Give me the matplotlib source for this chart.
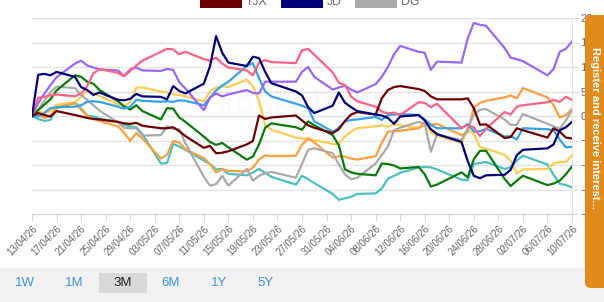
import matplotlib
matplotlib.use("Agg")
import matplotlib.pyplot as plt
from matplotlib.patches import Rectangle, FancyBboxPatch
from matplotlib.transforms import IdentityTransform
import pandas as pd

plt.rcParams['font.family'] = ['Liberation Sans', 'DejaVu Sans']

# trading days shown on the chart
dates = ["2026-04-13", "2026-04-14", "2026-04-15", "2026-04-16", "2026-04-17",
         "2026-04-20", "2026-04-21", "2026-04-22", "2026-04-23", "2026-04-24",
         "2026-04-27", "2026-04-28", "2026-04-29", "2026-04-30", "2026-05-01",
         "2026-05-04", "2026-05-05", "2026-05-06", "2026-05-07", "2026-05-08",
         "2026-05-11", "2026-05-12", "2026-05-13", "2026-05-14", "2026-05-15",
         "2026-05-18", "2026-05-19", "2026-05-20", "2026-05-21", "2026-05-22",
         "2026-05-26", "2026-05-27", "2026-05-28", "2026-05-29",
         "2026-06-01", "2026-06-02", "2026-06-03", "2026-06-04", "2026-06-05",
         "2026-06-08", "2026-06-09", "2026-06-10", "2026-06-11", "2026-06-12",
         "2026-06-15", "2026-06-16", "2026-06-17", "2026-06-18",
         "2026-06-22", "2026-06-23", "2026-06-24", "2026-06-25", "2026-06-26",
         "2026-06-29", "2026-06-30", "2026-07-01", "2026-07-02",
         "2026-07-06", "2026-07-07", "2026-07-08", "2026-07-09", "2026-07-10"]

# % change per series
purple = [0, 2.6, 4.5, 6.3, 7.9, 10.7, 11.3, 10.3, 9.9, 9.5,
          9.3, 8.2, 9.5, 9.9, 9.3, 9.2, 9.6, 9.4, 6.9, 5.6,
          1.2, 3.8, 4.6, 4.0, 4.4, 5.3, 4.7, 4.6, 7.0, 7.0,
          7.0, 9.0, 10.0, 8.0, 5.4, 5.8, 6.2, 5.4, 4.8,
          6.5, 8.0, 10.0, 12.6, 14.3, 13.1, 12.9, 9.4, 11.1,
          10.9, 15.8, 19.0, 18.6, 18.4, 13.9, 11.9, 11.6, 11.2,
          8.3, 9.6, 13.1, 13.7, 15.2]
pink = [0, 3.7, 3.9, 4.2, 4.4, 4.0, 4.6, 6.1, 8.7, 9.6,
        8.8, 8.1, 9.2, 10.3, 11.3, 13.1, 13.7, 13.6, 12.6, 13.1,
        11.6, 11.3, 11.9, 10.7, 9.9, 9.3, 8.3, 10.9, 11.4, 11.0,
        10.8, 13.4, 13.7, 12.5, 8.9, 6.8, 6.3, 4.0, 3.0,
        1.9, 0.9, 0.5, 0.7, 0.2, 2.8, 2.7, 1.8, 2.5,
        -2.5, -1.8, -2.3, -4.1, -2.6, 0.8, 0.3, 1.9, 2.2,
        2.8, 3.3, 2.9, 3.9, 3.3]
jd = [0, 8.4, 8.6, 8.3, 9.0, 8.0, 5.9, 5.3, 4.3, 4.8,
      3.3, 3.2, 3.5, 4.5, 4.0, 3.9, 3.4, 6.1, 5.1, 4.6,
      6.6, 10.1, 16.3, 12.9, 10.9, 10.2, 12.1, 11.8, 9.0, 6.7,
      5.0, 4.2, 1.8, 0.6, 2.1, 4.8, 2.7, 1.8, 1.0,
      0.3, 0.1, -0.4, -1.6, -0.1, 0.2, -0.9, -2.7, -3.7,
      -5.3, -9.2, -12.2, -12.7, -12.1, -12.0, -11.0, -8.0, -6.9,
      -6.6, -5.8, -2.9, -2.3, -1.2]
tjx = [0, 0.6, 0.2, -0.1, 1.0, 0.2, -0.1, -0.4, -0.6, -0.7,
       -1.2, -1.5, -1.6, -1.4, -2.0, -2.5, -2.5, -2.3, -3.1, -4.1,
       -6.5, -6.1, -7.6, -7.5, -7.2, -5.8, -5.1, 0.1, -0.6, -0.3,
       0.1, -0.9, -1.9, -2.4, -3.5, -2.7, -1.0, 0.3, 0.8,
       0.3, 3.6, 5.3, 5.9, 6.1, 5.5, 5.1, 4.0, 3.4,
       3.4, 3.6, 1.6, -1.8, -1.7, -4.5, -4.3, -2.5, -2.9,
       -4.4, -2.5, -3.2, -4.4, -4.6]
green = [0, 1.2, 2.3, 3.4, 5.2, 8.3, 8.0, 7.0, 6.6, 5.3,
         3.0, 2.0, 1.3, 2.2, 1.0, -0.7, 1.6, 1.5, -0.3, -1.2,
         -4.2, -5.3, -5.9, -5.5, -6.4, -8.9, -8.3, -5.8, -2.4, -1.5,
         -2.3, -2.8, -1.1, -1.9, -3.9, -6.0, -10.9, -11.5, -11.8,
         -12.1, -9.7, -9.8, -10.1, -10.7, -10.4, -11.9, -14.4, -14.0,
         -11.5, -12.5, -8.8, -7.1, -7.1, -12.8, -14.3, -13.2, -12.2,
         -14.1, -13.8, -13.2, -11.9, -10.3]
dg = [0, 1.2, 3.1, 4.8, 6.0, 5.7, 4.3, 3.3, 2.2, 1.1,
      -1.3, -2.4, -2.5, -2.5, -4.0, -3.9, -2.1, -2.6, -2.7, -5.6,
      -12.4, -14.2, -13.9, -12.2, -14.2, -10.8, -13.2, -12.2, -11.7, -11.4,
      -12.6, -9.8, -6.9, -6.6, -7.6, -9.9, -11.9, -12.9, -12.6,
      -9.7, -8.0, -6.2, -2.9, -2.4, -1.2, -1.6, -7.3, -3.8,
      -4.9, -2.5, 0.3, 1.3, 1.4, -0.7, -1.8, -1.8, 0.4,
      -1.6, -2.1, -2.6, -0.9, 1.2]
orange = [0, 0.3, -0.4, 0.0, 1.8, 2.6, 1.3, 0.0, -0.6, -1.0,
          -2.1, -3.4, -5.1, -3.5, -4.6, -8.7, -7.9, -5.1, -5.4, -6.8,
          -8.6, -9.8, -11.5, -10.9, -11.2, -11.3, -10.5, -8.9, -8.0, -8.2,
          -8.1, -5.9, -4.6, -5.4, -8.5, -8.2, -8.3, -8.7, -8.9,
          -8.2, -5.5, -3.2, -3.1, -3.0, -2.5, -1.7, -1.8, -1.6,
          -3.9, -3.3, 1.7, 2.7, 3.1, 3.8, 4.2, 3.6, 5.7,
          3.8, 2.2, -0.3, 0.2, 1.4]
yellow = [0, 0.9, 0.7, 1.0, 2.3, 2.8, 3.9, 5.0, 4.6, 4.1,
          2.4, 1.9, 2.9, 5.8, 5.8, 5.0, 4.8, 4.4, 4.3, 4.0,
          3.0, 5.0, 5.8, 6.1, 5.9, 7.4, 6.1, 3.1, -1.9, -2.8,
          -4.4, -4.6, -4.6, -4.9, -5.7, -5.7, -4.2, -3.2, -2.5,
          -2.1, -1.9, -2.2, -1.7, -1.9, -2.4, -1.1, -3.4, -4.0,
          -5.5, -2.8, -3.7, -6.3, -6.7, -7.9, -9.1, -11.7, -10.9,
          -10.8, -9.7, -9.4, -9.4, -8.0]
blue = [0, -0.1, 0.6, 1.6, 1.8, 1.9, 2.2, 2.9, 3.0, 2.9,
        1.9, 1.5, 1.9, 3.3, 3.1, 2.9, 3.0, 2.9, 3.2, 3.1,
        2.2, 3.7, 5.2, 6.2, 7.0, 10.2, 10.8, 7.7, 5.0, 4.0,
        2.5, 2.1, 1.6, -1.1, -3.2, -2.4, -1.1, -0.8, -0.7,
        -0.2, -0.8, 0.2, 0.3, 0.4, 0.2, -0.7, -1.8, -2.5,
        -2.5, -1.6, -3.2, -3.1, -2.6, -4.2, -4.1, -4.8, -2.5,
        -2.7, -2.9, -4.8, -6.4, -6.3]
teal = [0, -0.6, -1.0, -0.8, 1.6, 2.8, 1.6, 0.1, -0.1, -0.5,
        -1.2, -1.8, -2.1, -2.3, -3.7, -9.7, -9.6, -5.7, -6.2, -6.9,
        -9.1, -9.8, -10.9, -10.8, -11.8, -12.1, -11.5, -10.8, -11.6, -12.4,
        -14.0, -12.2, -12.9, -13.7, -15.9, -17.1, -16.8, -16.5, -15.9,
        -15.8, -14.8, -12.8, -12.2, -11.6, -10.5, -10.4, -10.5, -10.9,
        -13.0, -13.1, -9.8, -9.6, -9.4, -10.8, -10.5, -9.1, -8.1,
        -9.9, -12.0, -13.8, -14.1, -14.6]

series = [
    (None, teal, '#4bc0c0'),
    (None, yellow, '#ffcd56'),
    (None, orange, '#ff9f40'),
    ('DG', dg, '#aaaaaa'),
    (None, green, '#0a7a0a'),
    (None, blue, '#36a2eb'),
    (None, purple, '#9966ff'),
    (None, pink, '#ff6384'),
    ('TJX', tjx, '#6e0000'),
    ('JD', jd, '#00007a'),
]
legend_items = [('TJX', '#6e0000'), ('JD', '#00007a'), ('DG', '#aaaaaa')]

buttons = ['1W', '1M', '3M', '6M', '1Y', '5Y']
selected = '3M'

W, H = 604, 302
fig = plt.figure(figsize=(W / 100, H / 100), dpi=100)
fig.patch.set_facecolor('white')

# bottom band with range buttons
fig.add_artist(Rectangle((0, 0), W, 34, transform=IdentityTransform(),
                         facecolor='#f2f2f2', edgecolor='none', zorder=0))

ax = fig.add_axes([32 / W, 1 - 214 / H, 540 / W, 196 / H])
ax.set_facecolor('none')

x = pd.to_datetime(dates)
for name, vals, col in series:
    ax.plot(x, vals, color=col, lw=1.6, zorder=3)

ax.set_ylim(-20, 20)
ax.set_xlim(pd.Timestamp('2026-04-13'), pd.Timestamp('2026-07-10'))
ax.set_yticks(range(-20, 21, 5))
ax.yaxis.tick_right()
ax.grid(axis='y', color='#e3e3e3', lw=1, zorder=0)
for s in ['top', 'left']:
    ax.spines[s].set_visible(False)
ax.spines['right'].set_color('#e3e3e3')
ax.spines['bottom'].set_color('#d6d6d6')
ax.tick_params(axis='y', length=5, color='#e3e3e3', pad=1,
               labelsize=8, labelcolor='#666666')

ticks = pd.date_range('2026-04-13', '2026-07-10', freq='4D')
ax.set_xticks(ticks)
ax.set_xticklabels([t.strftime('%d/%m/%y') for t in ticks], rotation=45,
                   ha='right', rotation_mode='anchor')
ax.tick_params(axis='x', length=5, color='#d6d6d6', pad=2,
               labelsize=7, labelcolor='#666666')

# faint watermark
ax.text(0.5, 0.56, 'StockMarket', transform=ax.transAxes, fontsize=26,
        color='#000000', alpha=0.02, ha='center', va='center', zorder=1)

# legend (last row, partly cut off at top)
lx = 200
for name, col in legend_items:
    fig.add_artist(Rectangle((lx, H - 8), 42, 14, transform=IdentityTransform(),
                             facecolor=col, edgecolor='none'))
    fig.text((lx + 46) / W, 1 - 2 / H, name, fontsize=8.8, color='#666666',
             ha='left', va='center')
    lx += 46 + len(name) * 7 + 14

# range buttons
bx = [25, 74, 123, 171, 219, 265]
for b, cx in zip(buttons, bx):
    if b == selected:
        fig.add_artist(Rectangle((cx - 24, H - 293), 48, 20,
                                 transform=IdentityTransform(),
                                 facecolor='#d9d9d9', edgecolor='none'))
        c = '#222222'
    else:
        c = '#3a94e6'
    fig.text(cx / W, 1 - 283 / H, b, fontsize=9.5, color=c,
             ha='center', va='center')

# side tab
fig.add_artist(FancyBboxPatch((585, H - 288), 40, 273,
                              boxstyle='round,pad=0,rounding_size=6',
                              transform=IdentityTransform(),
                              facecolor='#e08c1d', edgecolor='none', zorder=5))
fig.text(595 / W, 1 - 128 / H, 'Register and receive interest...',
         rotation=-90, color='white', fontsize=8, fontweight='bold',
         ha='center', va='center', zorder=6)

fig.savefig('out.png', dpi=100)
